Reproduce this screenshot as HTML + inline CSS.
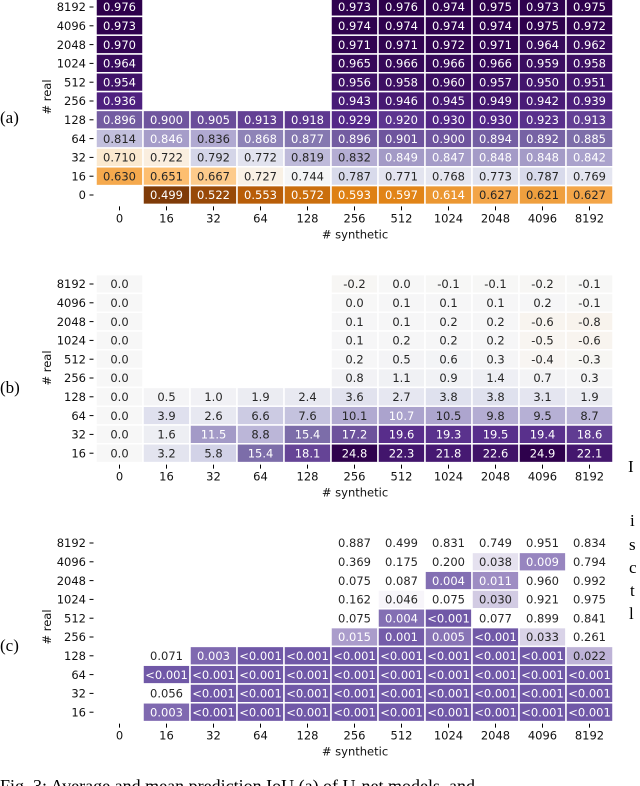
<!DOCTYPE html>
<html><head><meta charset="utf-8"><style>
html,body{margin:0;padding:0;background:#fff;}
svg{display:block;font-family:"DejaVu Sans","Liberation Sans",sans-serif;}
</style></head><body>
<svg id="fig" width="640" height="786" viewBox="0 0 640 786">
<g id="ga"></g>
<g id="gb"></g>
<g id="gc"></g>
<text x="0" y="123" font-family="Liberation Serif,serif" font-size="17">(a)</text>
<text x="0" y="393" font-family="Liberation Serif,serif" font-size="17">(b)</text>
<text x="0" y="651" font-family="Liberation Serif,serif" font-size="17">(c)</text>
<text x="0" y="792" font-family="Liberation Serif,serif" font-size="18">Fig. 3: Average and mean prediction IoU (a) of U-net models, and</text>
<g font-family="Liberation Serif,serif" font-size="17">
<text x="628" y="472">I</text><text x="630" y="526">i</text><text x="629" y="550">s</text><text x="629" y="573">c</text><text x="630" y="596">t</text><text x="629" y="619">l</text>
</g>
</svg>
<script>
const cols = ["0","16","32","64","128","256","512","1024","2048","4096","8192"];
const rowsA = ["8192","4096","2048","1024","512","256","128","64","32","16","0"];
const rowsBC = ["8192","4096","2048","1024","512","256","128","64","32","16"];
const _ = null;
const valuesA = [
 [0.976,_,_,_,_,0.973,0.976,0.974,0.975,0.973,0.975],
 [0.973,_,_,_,_,0.974,0.974,0.974,0.974,0.975,0.972],
 [0.970,_,_,_,_,0.971,0.971,0.972,0.971,0.964,0.962],
 [0.964,_,_,_,_,0.965,0.966,0.966,0.966,0.959,0.958],
 [0.954,_,_,_,_,0.956,0.958,0.960,0.957,0.950,0.951],
 [0.936,_,_,_,_,0.943,0.946,0.945,0.949,0.942,0.939],
 [0.896,0.900,0.905,0.913,0.918,0.929,0.920,0.930,0.930,0.923,0.913],
 [0.814,0.846,0.836,0.868,0.877,0.896,0.901,0.900,0.894,0.892,0.885],
 [0.710,0.722,0.792,0.772,0.819,0.832,0.849,0.847,0.848,0.848,0.842],
 [0.630,0.651,0.667,0.727,0.744,0.787,0.771,0.768,0.773,0.787,0.769],
 [_,0.499,0.522,0.553,0.572,0.593,0.597,0.614,0.627,0.621,0.627]
];
const valuesB = [
 [0.0,_,_,_,_,-0.2,0.0,-0.1,-0.1,-0.2,-0.1],
 [0.0,_,_,_,_,0.0,0.1,0.1,0.1,0.2,-0.1],
 [0.0,_,_,_,_,0.1,0.1,0.2,0.2,-0.6,-0.8],
 [0.0,_,_,_,_,0.1,0.2,0.2,0.2,-0.5,-0.6],
 [0.0,_,_,_,_,0.2,0.5,0.6,0.3,-0.4,-0.3],
 [0.0,_,_,_,_,0.8,1.1,0.9,1.4,0.7,0.3],
 [0.0,0.5,1.0,1.9,2.4,3.6,2.7,3.8,3.8,3.1,1.9],
 [0.0,3.9,2.6,6.6,7.6,10.1,10.7,10.5,9.8,9.5,8.7],
 [0.0,1.6,11.5,8.8,15.4,17.2,19.6,19.3,19.5,19.4,18.6],
 [0.0,3.2,5.8,15.4,18.1,24.8,22.3,21.8,22.6,24.9,22.1]
];
const L = 0.0005; // "<0.001"
const valuesC = [
 [_,_,_,_,_,0.887,0.499,0.831,0.749,0.951,0.834],
 [_,_,_,_,_,0.369,0.175,0.200,0.038,0.009,0.794],
 [_,_,_,_,_,0.075,0.087,0.004,0.011,0.960,0.992],
 [_,_,_,_,_,0.162,0.046,0.075,0.030,0.921,0.975],
 [_,_,_,_,_,0.075,0.004,L,0.077,0.899,0.841],
 [_,_,_,_,_,0.015,0.001,0.005,L,0.033,0.261],
 [_,0.071,0.003,L,L,L,L,L,L,L,0.022],
 [_,L,L,L,L,L,L,L,L,L,L],
 [_,0.056,L,L,L,L,L,L,L,L,L],
 [_,0.003,L,L,L,L,L,L,L,L,L]
];

const NS = "http://www.w3.org/2000/svg";
const PUOR = ["#7f3b08","#b35806","#e08214","#fdb863","#fee0b6","#f7f7f7","#d8daeb","#b2abd2","#8073ac","#542788","#2d004b"];
function hex(h){return [parseInt(h.slice(1,3),16),parseInt(h.slice(3,5),16),parseInt(h.slice(5,7),16)];}
function mix(a,b,t){const A=hex(a),B=hex(b);return "rgb("+A.map((v,i)=>Math.round(v+(B[i]-v)*t)).join(",")+")";}
function puor(t){t=Math.max(0,Math.min(1,t));const s=t*10,i=Math.min(9,Math.floor(s));return mix(PUOR[i],PUOR[i+1],s-i);}
function mk(tag,attrs,parent){const e=document.createElementNS(NS,tag);for(const k in attrs)e.setAttribute(k,attrs[k]);parent.appendChild(e);return e;}

const X0=96, CW=47, RH=18.8;
function xScale(ci){return X0+ci*CW;}

function panel(g, top, rows, vals, colorFn, fmt, yTitleY){
  const yScale = ri => top + ri*RH;
  for(let r=0;r<rows.length;r++){
    for(let c=0;c<cols.length;c++){
      const v=vals[r][c]; if(v===null) continue;
      const res=colorFn(v);
      const rect=mk("rect",{x:xScale(c),y:yScale(r),width:CW,height:RH,fill:res.fill,stroke:"#fff","stroke-width":1.5},g);
      
      
      const t=mk("text",{x:xScale(c)+CW/2,y:yScale(r)+RH/2+4.2,"text-anchor":"middle","font-size":"11.5",fill:res.text},g);
      
      
      t.textContent=fmt(v);
    }
  }
  for(let r=0;r<rows.length;r++){
    const y=yScale(r)+RH/2;
    const tk=mk("line",{x1:89.5,x2:93.5,y1:y,y2:y,stroke:"#000","stroke-width":1},g);
    
    
    const t=mk("text",{x:86,y:y+4.2,"text-anchor":"end","font-size":"11.5",fill:"#111"},g);
    
    
    t.textContent=rows[r];
  }
  const bottom=yScale(rows.length);
  for(let c=0;c<cols.length;c++){
    const x=xScale(c)+CW/2;
    const tk=mk("line",{x1:x,x2:x,y1:bottom+2,y2:bottom+6,stroke:"#000","stroke-width":1},g);
    
    
    const t=mk("text",{x:x,y:bottom+18,"text-anchor":"middle","font-size":"11.5",fill:"#111"},g);
    
    
    t.textContent=cols[c];
  }
  const xt=mk("text",{x:355,y:bottom+34,"text-anchor":"middle","font-size":"11.5",fill:"#111"},g);
  
  
  xt.textContent="# synthetic";
  const yt=mk("text",{x:0,y:0,"text-anchor":"middle","font-size":"11.5",fill:"#111",transform:"translate(51,"+yTitleY+") rotate(-90)"},g);
  
  
  yt.textContent="# real";
}

function colA(v){const c=0.74,lo=0.499,hi=0.976;const t=v<c?0.5*(v-lo)/(c-lo):0.5+0.5*(v-c)/(hi-c);return {fill:puor(t),text:(t<0.25||t>0.71)?"#fff":"#262626"};}
function colB(v){const t=0.5+0.5*v/25;return {fill:puor(t),text:(t<0.25||t>0.71)?"#fff":"#262626"};}
function colC(v){const t=Math.pow(Math.min(v/0.05,1),0.7);return {fill:mix("#6a51a3","#ffffff",t),text:t<0.5?"#fff":"#262626"};}

panel(document.getElementById("ga"),-2.4,rowsA,valuesA,colA,v=>v.toFixed(3),97);
panel(document.getElementById("gb"),274.6,rowsBC,valuesB,colB,v=>v.toFixed(1),368);
panel(document.getElementById("gc"),533.6,rowsBC,valuesC,colC,v=>v<0.001?"<0.001":v.toFixed(3),627);
</script>
</body></html>
